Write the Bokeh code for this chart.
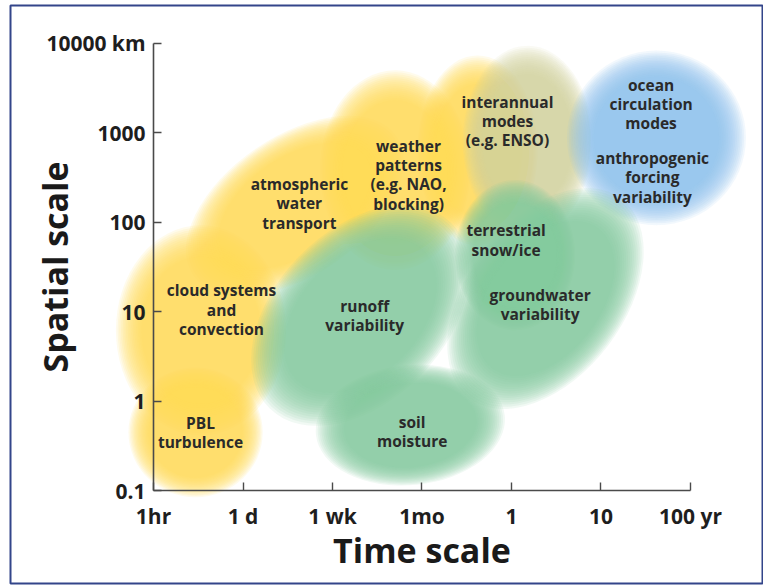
from bokeh.plotting import figure
from bokeh.models import ColumnDataSource, FixedTicker, Range1d
from bokeh.core.properties import value
from bokeh.embed import file_html
from bokeh.resources import INLINE

# ---- axes (time positions are evenly spaced categories; space is log10 km) ----
time_ticks = [0, 1, 2, 3, 4, 5, 6]
time_labels = ["1hr", "1 d", "1 wk", "1mo", "1", "10", "100 yr"]
space_ticks = [-1, 0, 1, 2, 3, 4]
space_labels = ["0.1", "1", "10", "100", "1000", "10000 km"]

# ---- process regions: centre (time position, log10 km), extent, tilt ----
blob_names = ["cloud systems", "atmospheric water transport", "weather patterns",
              "interannual (warm part)", "PBL turbulence", "interannual (cool part)",
              "ocean / anthropogenic", "runoff", "soil moisture", "groundwater",
              "terrestrial snow/ice"]
blob_t = [0.53, 1.58, 2.70, 3.62, 0.47, 4.18, 5.62, 2.31, 2.87, 4.38, 4.04]
blob_s = [0.79, 2.18, 2.58, 2.80, -0.35, 2.91, 2.94, 0.955, -0.27, 1.145, 1.63]
blob_w = [1.9, 2.75, 1.68, 1.34, 1.5, 1.45, 2.0, 2.9, 2.12, 2.8, 1.34]
blob_h = [2.35, 1.55, 2.23, 2.12, 1.45, 2.12, 1.95, 1.9, 1.34, 1.75, 1.68]
blob_tilt = [0.0, 0.6, 0.0, 0.0, 0.0, 0.0, 0.0, 0.8, 0.1, 0.92, 0.0]
blob_group = ["atmosphere"] * 5 + ["modes", "ocean"] + ["land"] * 4

# ---- labels ----
label_text = ["cloud systems\nand\nconvection", "PBL\nturbulence",
              "atmospheric\nwater\ntransport", "weather\npatterns\n(e.g. NAO,\nblocking)",
              "interannual\nmodes\n(e.g. ENSO)", "ocean\ncirculation\nmodes",
              "anthropogenic\nforcing\nvariability", "terrestrial\nsnow/ice",
              "groundwater\nvariability", "runoff\nvariability", "soil\nmoisture"]
label_t = [0.76, 0.525, 1.63, 2.85, 3.955, 5.56, 5.575, 3.94, 4.32, 2.36, 2.89]
label_s = [1.02, -0.35, 2.21, 2.53, 3.13, 3.32, 2.50, 1.80, 1.08, 0.955, -0.34]

group_order = ["atmosphere", "modes", "ocean", "land"]
group_color = {"atmosphere": "#fbd95a", "modes": "#cfd3a0",
               "ocean": "#8cc5ea", "land": "#85cd9e"}

FONT = value("Open Sans")

p = figure(width=763, height=585,
           x_range=Range1d(-1.598, 6.816), y_range=Range1d(-2.039, 4.419),
           output_backend="svg", toolbar_location=None,
           min_border_left=10, min_border_right=0,
           min_border_top=5, min_border_bottom=2)
p.background_fill_color = "white"
p.border_fill_color = "white"
p.outline_line_color = "#33458a"
p.outline_line_width = 2
p.grid.visible = False

# soft-edged regions: stacked translucent ellipses shrinking toward the centre
layers = 16
for g in group_order:
    idx = [i for i, gg in enumerate(blob_group) if gg == g]
    for k in range(layers):
        s = 1.0 - 0.3 * k / (layers - 1)
        src = ColumnDataSource(dict(
            x=[blob_t[i] for i in idx], y=[blob_s[i] for i in idx],
            w=[blob_w[i] * s for i in idx], h=[blob_h[i] * s for i in idx],
            a=[blob_tilt[i] for i in idx]))
        p.ellipse(x="x", y="y", width="w", height="h", angle="a", source=src,
                  fill_color=group_color[g], fill_alpha=0.115, line_color=None)

lab_src = ColumnDataSource(dict(x=label_t, y=label_s, t=label_text))
p.text(x="x", y="y", text="t", source=lab_src, text_align="center",
       text_baseline="middle", text_font=FONT, text_font_style="bold",
       text_font_size="15.5px", text_color="#2a2a2a", text_line_height=0.88)

# axes
for ax in (p.xaxis[0], p.yaxis[0]):
    ax.axis_line_color = "#4a4a4a"
    ax.axis_line_width = 1.6
    ax.major_tick_line_color = "#4a4a4a"
    ax.major_tick_line_width = 1.4
    ax.major_tick_in = 8
    ax.major_tick_out = 0
    ax.minor_tick_line_color = None
    ax.major_label_text_font = "Open Sans"
    ax.major_label_text_font_style = "bold"
    ax.major_label_text_font_size = "21px"
    ax.major_label_text_color = "#1e1e1e"
    ax.axis_label_text_font = "Open Sans"
    ax.axis_label_text_font_style = "bold"
    ax.axis_label_text_font_size = "34px"
    ax.axis_label_text_color = "#1a1a1a"

p.xaxis.fixed_location = -1
p.yaxis.fixed_location = 0
p.xaxis.bounds = (0, 6)
p.yaxis.bounds = (-1, 4)
p.xaxis.ticker = FixedTicker(ticks=time_ticks)
p.yaxis.ticker = FixedTicker(ticks=space_ticks)
p.xaxis.major_label_overrides = {t: l for t, l in zip(time_ticks, time_labels)}
p.yaxis.major_label_overrides = {t: l for t, l in zip(space_ticks, space_labels)}
p.xaxis.major_label_standoff = 11
p.yaxis.major_label_standoff = 8
p.xaxis.axis_label = "Time scale"
p.yaxis.axis_label = "Spatial scale"
p.xaxis.axis_label_standoff = -6
p.yaxis.axis_label_standoff = -35

open("out.html", "w").write(file_html(p, INLINE))
